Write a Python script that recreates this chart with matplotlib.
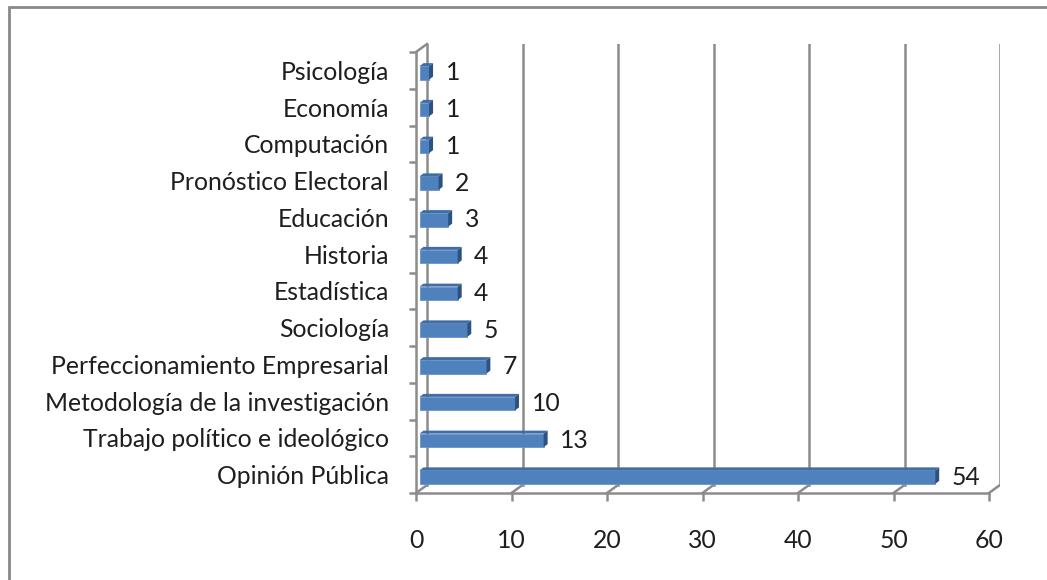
import matplotlib
matplotlib.use('Agg')
import matplotlib.pyplot as plt
from matplotlib.patches import Polygon, Rectangle

plt.rcParams['font.family'] = ['Lato', 'DejaVu Sans']

# data (bottom to top)
categories = ['Opinión Pública', 'Trabajo político e ideológico',
              'Metodología de la investigación', 'Perfeccionamiento Empresarial',
              'Sociología', 'Estadística', 'Historia', 'Educación',
              'Pronóstico Electoral', 'Computación', 'Economía', 'Psicología']
values = [54, 13, 10, 7, 5, 4, 4, 3, 2, 1, 1, 1]
xticks = [0, 10, 20, 30, 40, 50, 60]

W, H = 1047, 580
fig = plt.figure(figsize=(W / 100, H / 100), dpi=100)
ax = fig.add_axes([416 / W, (H - 493) / H, (1000 - 416) / W, (493 - 44) / H])

px_x = 573 / 60.0      # pixels per unit on x
px_y = 441 / 12.0      # pixels per category
dx, dy = 11 / px_x, 8 / px_y          # wall depth
sx, sy = 3.5 / px_x, 2.5 / px_y       # bar offset into depth
bx, by = 4 / px_x, 3 / px_y           # bar depth
bh = 13.5 / px_y

fs = 17.8
txt_c = '#1e1e1e'
grid_c = '#8c8c8c'
ax.set_xlim(0, 60 + dx)
ax.set_ylim(-0.5, 11.5 + dy)

# back wall gridlines and floor diagonals
for t in xticks:
    ax.plot([t + dx, t + dx], [-0.5 + dy, 11.5 + dy], color=grid_c, lw=1.8, zorder=1)
    ax.plot([t, t + dx], [-0.5, -0.5 + dy], color=grid_c, lw=1.8, zorder=1)
ax.plot([0, dx], [11.5, 11.5 + dy], color=grid_c, lw=1.8, zorder=1, clip_on=False)

# bars
ypos = list(range(len(categories)))
ax.barh([y - sy for y in ypos], values, left=sx, height=bh,
        color='#4f81bd', edgecolor='#6a93c8', linewidth=0.6, zorder=3)
for y, v in zip(ypos, values):
    x0, x1 = sx, sx + v
    bot, top = y - sy - bh / 2, y - sy + bh / 2
    ax.add_patch(Polygon([(x0, top), (x1, top), (x1 + bx, top + by), (x0 + bx, top + by)],
                         closed=True, facecolor='#3f6da6', edgecolor='none', zorder=3))
    ax.add_patch(Polygon([(x1, bot), (x1 + bx, bot + by), (x1 + bx, top + by), (x1, top)],
                         closed=True, facecolor='#2c5283', edgecolor='none', zorder=3))
    ax.annotate(str(v), (x1 + bx, y - sy), xytext=(9, 0), textcoords='offset points',
                va='center', ha='left', fontsize=fs, color=txt_c)

# axes
for s in ['top', 'right']:
    ax.spines[s].set_visible(False)
ax.spines['left'].set_bounds(-0.5, 11.5)
ax.spines['bottom'].set_bounds(0, 60)
for s in ['left', 'bottom']:
    ax.spines[s].set_color(grid_c)
    ax.spines[s].set_linewidth(1.8)
ax.set_xticks(xticks)
ax.set_xticklabels([str(t) for t in xticks])
ax.tick_params(axis='x', direction='out', length=6, width=1.8, color=grid_c,
               pad=20, labelsize=fs, labelcolor=txt_c)
ax.set_yticks(ypos)
ax.set_yticklabels(categories)
ax.set_yticks([y - 0.5 for y in range(len(categories) + 1)], minor=True)
ax.tick_params(axis='y', which='major', length=0, pad=19.5, labelsize=fs, labelcolor=txt_c)
ax.tick_params(axis='y', which='minor', direction='out', length=5, width=1.8, color=grid_c)
ax.patch.set_alpha(0)

# outer chart border
fig.add_artist(Rectangle((9 / W, -0.1), 1.2, 1.1 - 7 / H, transform=fig.transFigure,
                         fill=False, edgecolor='#898989', linewidth=2))

fig.savefig('out.png', dpi=100)
